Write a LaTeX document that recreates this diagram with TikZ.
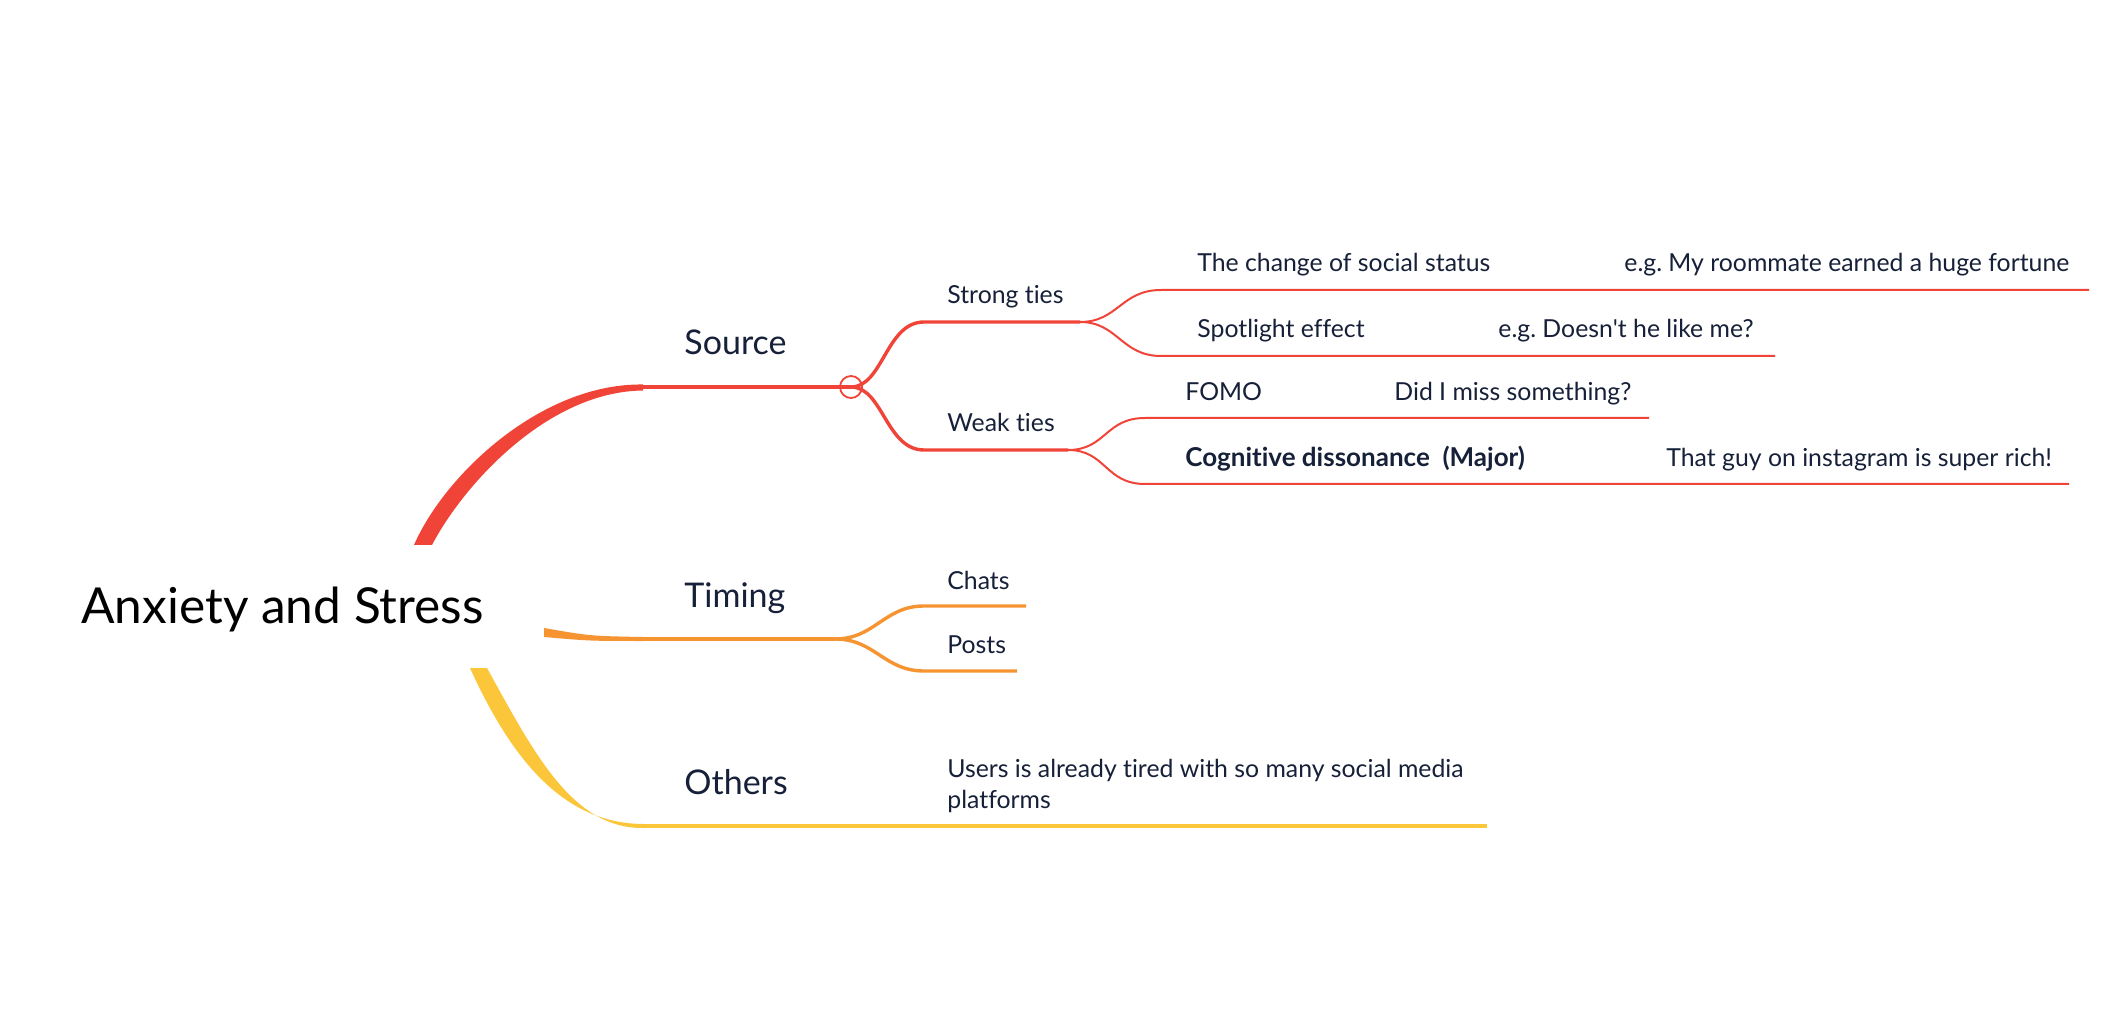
\documentclass[tikz,border=0pt]{standalone}
\usepackage{fontspec}
\setmainfont{Lato}[Ligatures=NoCommon]
\definecolor{cred}{RGB}{240,68,56}
\definecolor{corange}{RGB}{246,148,50}
\definecolor{cyellow}{RGB}{251,198,58}
\definecolor{ink}{RGB}{22,32,56}
\begin{document}
\begin{tikzpicture}[x=0.5pt,y=-0.5pt,
  root/.style={anchor=base west,inner sep=0pt,text=black,font=\fontsize{24.8}{29}\selectfont},
  main/.style={anchor=base west,inner sep=0pt,text=ink,font=\fontsize{17}{20}\selectfont},
  sub/.style={anchor=base west,inner sep=0pt,text=ink,font=\fontsize{12.4}{15.5}\selectfont},
  subb/.style={sub,font=\fontsize{13}{15.5}\selectfont\bfseries},
  thickln/.style={line width=2pt},
  midln/.style={line width=1.7pt},
  thinln/.style={line width=1pt}]
\fill[white] (0,0) rectangle (2112,1036);
\useasboundingbox (0,0) rectangle (2112,1036);

% root
\node[root] (root) at (81,623) {Anxiety and Stress};

% main branch labels
\node[main] (source) at (684,355) {Source};
\node[main] (timing) at (684,607) {Timing};
\node[main] (others) at (684,794) {Others};

% junction coordinates
\coordinate (srcS) at (643,387);
\coordinate (srcJ) at (851,387);
\coordinate (timS) at (643,639);
\coordinate (timJ) at (835,639);
\coordinate (othS) at (644,826);
\coordinate (othE) at (1487,826);

% thick tapered roots
\fill[cred] (414,545) .. controls (445,474) and (542,383) .. (643,384.5) -- (643,390.5) .. controls (548,391.5) and (464,484) .. (432,545) -- cycle;
\fill[corange] (544,628) .. controls (590,636) .. (643,637) -- (643,641) .. controls (590,641) .. (544,637) -- cycle;
\fill[cyellow] (470,668) .. controls (514,765) and (567,824) .. (644,824) -- (644,828) .. controls (573,829) and (535,755) .. (487,668) -- cycle;

% main lines
\draw[cred,thickln] (srcS) -- (srcJ);
\draw[corange,thickln] (timS) -- (timJ);
\draw[cyellow,thickln] (othS) -- (othE);

% Source sub-branches
\coordinate (strA) at (924,322); \coordinate (strB) at (1080,322);
\coordinate (wkA) at (924,450);  \coordinate (wkB) at (1068,450);
\draw[cred,midln] (srcJ) .. controls +(32,0) and +(-38,0) .. (strA) -- (strB);
\draw[cred,midln] (srcJ) .. controls +(32,0) and +(-38,0) .. (wkA) -- (wkB);
\draw[cred,line width=0.9pt] (srcJ) circle[radius=5.5pt];
\node[sub] (strong) at (947,304) {Strong ties};
\node[sub] (weak) at (947,432) {Weak ties};

% Strong ties leaves
\coordinate (chgA) at (1161,290); \coordinate (chgB) at (2089,290);
\coordinate (spoA) at (1161,356); \coordinate (spoB) at (1775,356);
\draw[cred,thinln] (strB) .. controls +(38,0) and +(-40,0) .. (chgA) -- (chgB);
\draw[cred,thinln] (strB) .. controls +(38,0) and +(-40,0) .. (spoA) -- (spoB);
\node[sub] (chg) at (1197,272) {The change of social status};
\node[sub] (chgEx) at (1624,272) {e.g.\ My roommate earned a huge fortune};
\node[sub] (spo) at (1197,338) {Spotlight effect};
\node[sub] (spoEx) at (1498,338) {e.g.\ Doesn\textquotesingle t he like me?};

% Weak ties leaves
\coordinate (fomA) at (1145,418); \coordinate (fomB) at (1649,418);
\coordinate (cogA) at (1145,484); \coordinate (cogB) at (2069,484);
\draw[cred,thinln] (wkB) .. controls +(38,0) and +(-40,0) .. (fomA) -- (fomB);
\draw[cred,thinln] (wkB) .. controls +(38,0) and +(-40,0) .. (cogA) -- (cogB);
\node[sub] (fomo) at (1185,401) {FOMO};
\node[sub] (fomoEx) at (1394,401) {Did I miss something?};
\node[subb] (cog) at (1185,467) {Cognitive dissonance\ \ (Major)};
\node[sub] (cogEx) at (1666,467) {That guy on instagram is super rich!};

% Timing leaves
\coordinate (chaA) at (924,606); \coordinate (chaB) at (1026,606);
\coordinate (posA) at (924,671); \coordinate (posB) at (1017,671);
\draw[corange,midln] (timJ) .. controls +(40,0) and +(-40,0) .. (chaA) -- (chaB);
\draw[corange,midln] (timJ) .. controls +(40,0) and +(-40,0) .. (posA) -- (posB);
\node[sub] (chats) at (947,589) {Chats};
\node[sub] (posts) at (947,653) {Posts};

% Others leaf
\node[sub,align=left,anchor=north west] (users) at (947,759) {Users is already tired with so many social media\\platforms};
\end{tikzpicture}
\end{document}
